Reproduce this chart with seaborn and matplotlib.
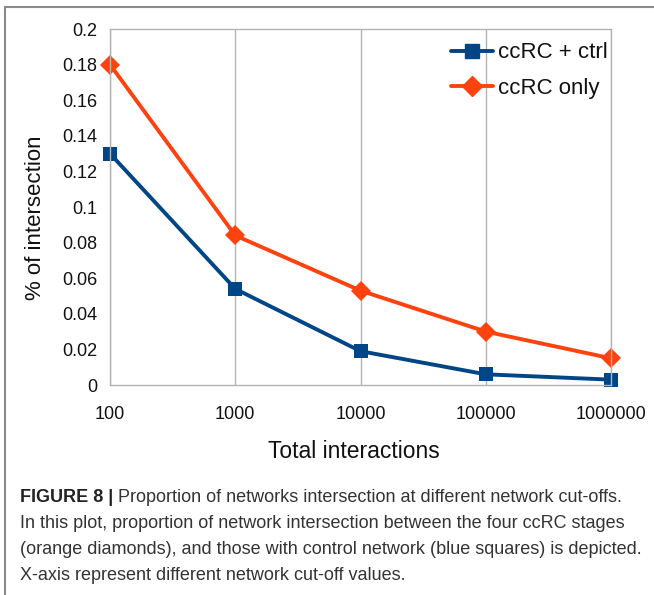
import matplotlib
matplotlib.use("Agg")
import matplotlib.pyplot as plt
import seaborn as sns
import pandas as pd
from matplotlib.lines import Line2D

interactions = [100, 1000, 10000, 100000, 1000000]
tick_labels = ["100", "1000", "10000", "100000", "1000000"]
ccrc_ctrl = [0.13, 0.054, 0.019, 0.006, 0.003]
ccrc_only = [0.18, 0.084, 0.053, 0.030, 0.015]
series_names = ["ccRC + ctrl", "ccRC only"]
colors = ["#004586", "#ff420e"]
y_ticks = [0, 0.02, 0.04, 0.06, 0.08, 0.1, 0.12, 0.14, 0.16, 0.18, 0.2]
y_tick_labels = ["0", "0.02", "0.04", "0.06", "0.08", "0.1", "0.12", "0.14", "0.16", "0.18", "0.2"]

df = pd.DataFrame({
    "Total interactions": interactions * 2,
    "value": ccrc_ctrl + ccrc_only,
    "series": [series_names[0]] * 5 + [series_names[1]] * 5,
})

sns.set_style("white")
plt.rcParams["font.family"] = ["Liberation Sans", "DejaVu Sans"]

fig = plt.figure(figsize=(6.54, 5.95), dpi=100)
ax = fig.add_axes([110 / 654, 1 - 385 / 595, (611 - 110) / 654, (385 - 29) / 595])

sns.lineplot(data=df, x="Total interactions", y="value", hue="series",
             style="series", markers={"ccRC + ctrl": "s", "ccRC only": "D"},
             dashes=False, palette=colors, linewidth=2.8, markersize=10,
             markeredgewidth=0, ax=ax, legend=False)

ax.set_xscale("log")
ax.set_xlim(100, 1000000)
ax.set_ylim(0, 0.2)
ax.set_xticks(interactions)
ax.set_xticklabels(tick_labels)
ax.minorticks_off()
ax.set_yticks(y_ticks)
ax.set_yticklabels(y_tick_labels)
ax.xaxis.grid(True, color="#b3b3b3", linewidth=1)
ax.yaxis.grid(False)
for s in ax.spines.values():
    s.set_color("#b3b3b3")
    s.set_linewidth(1)
ax.tick_params(axis="both", which="major", length=6, width=1, color="#b3b3b3",
               labelsize=13, labelcolor="#111111", direction="out", pad=3)
ax.tick_params(axis="x", pad=9)
ax.set_xlabel("Total interactions", fontsize=16.5, color="#111111", labelpad=12)
ax.xaxis.set_label_coords(0.486, -0.155)
ax.set_ylabel("% of intersection", fontsize=16, color="#111111")
ax.yaxis.set_label_coords(-0.128, 0.47)
for line in ax.lines:
    line.set_clip_on(False)

handles = [Line2D([], [], color=colors[0], marker="s", lw=2.8, markersize=10),
           Line2D([], [], color=colors[1], marker="D", lw=2.8, markersize=10)]
leg = ax.legend(handles, series_names, loc="upper right", bbox_to_anchor=(1.02, 1.0),
                frameon=False, fontsize=16, handlelength=1.9, handletextpad=0.2,
                labelspacing=0.65, borderaxespad=0.2)
for t in leg.get_texts():
    t.set_color("#111111")

# figure frame lines (top and left)
fig.add_artist(Line2D([4.5 / 654, 1.0], [1 - 7 / 595, 1 - 7 / 595], color="#8a8a8a", lw=1.5,
                      transform=fig.transFigure))
fig.add_artist(Line2D([4.5 / 654, 4.5 / 654], [0, 1 - 7 / 595], color="#8a8a8a", lw=1.5,
                      transform=fig.transFigure))

cap_font = ["Liberation Sans", "DejaVu Sans"]
cap_size = 13.0
cap_lines = [
    "Proportion of networks intersection at different network cut-offs.",
    "In this plot, proportion of network intersection between the four ccRC stages",
    "(orange diamonds), and those with control network (blue squares) is depicted.",
    "X-axis represent different network cut-off values.",
]
y0 = 497
t = fig.text(20 / 654, 1 - y0 / 595, "FIGURE 8 | ", fontsize=cap_size, fontweight="bold",
             color="#222222", family=cap_font, va="center", ha="left")
fig.canvas.draw()
bb = t.get_window_extent()
fig.text(bb.x1 / 654, 1 - y0 / 595, cap_lines[0], fontsize=cap_size, color="#333333",
         family=cap_font, va="center", ha="left")
for i, line in enumerate(cap_lines[1:], start=1):
    fig.text(20 / 654, 1 - (y0 + 26 * i) / 595, line, fontsize=cap_size, color="#333333",
             family=cap_font, va="center", ha="left")

fig.savefig("out.png", dpi=100)
